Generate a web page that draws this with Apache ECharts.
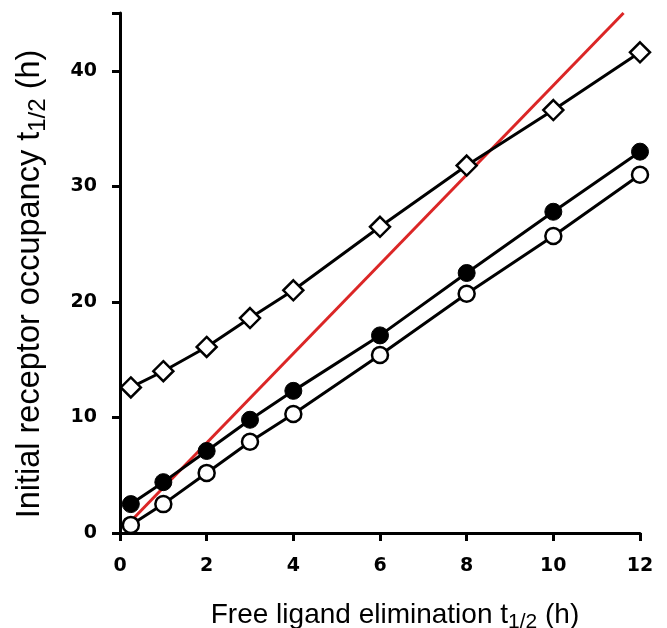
<!DOCTYPE html>
<html><head><meta charset="utf-8">
<script src="https://cdn.jsdelivr.net/npm/echarts@6/dist/echarts.min.js"></script>
<style>html,body{margin:0;padding:0;background:#fff}#c{width:667px;height:628px}</style>
</head><body><div id="c"></div>
<script>
const xValues = [0.25, 1, 2, 3, 4, 6, 8, 10, 12];
const diamondValues = [12.6, 14.0, 16.1, 18.6, 21.0, 26.5, 31.8, 36.6, 41.6];
const filledValues = [2.5, 4.4, 7.1, 9.8, 12.3, 17.1, 22.5, 27.8, 33.0];
const openValues = [0.7, 2.5, 5.2, 7.9, 10.3, 15.4, 20.7, 25.7, 31.0];
const redLineX = [0.32, 11.62];
const redLineY = [1.3, 45];
const xTicks = [0, 2, 4, 6, 8, 10, 12];
const yTicks = [0, 10, 20, 30, 40];

const pair = (xs, ys) => xs.map((x, i) => [x, ys[i]]);
const font = '"Liberation Sans", Arial, Helvetica, sans-serif';
const tickFont = '"DejaVu Sans", "Liberation Sans", Arial, sans-serif';
const chart = echarts.init(document.getElementById('c'), null, {renderer: 'canvas'});
const axisCommon = {
  axisLine: {show: true, onZero: false, lineStyle: {color: '#000', width: 3}},
  axisTick: {show: true, inside: false, length: 8, lineStyle: {color: '#000', width: 3}},
  splitLine: {show: false},
  axisLabel: {color: '#000', fontWeight: 'bold', fontSize: 19, fontFamily: tickFont, margin: 23}
};
chart.setOption({
  animation: false,
  grid: {left: 120, right: 27, top: 13, bottom: 95, containLabel: false, outerBoundsMode: 'none'},
  xAxis: Object.assign({}, axisCommon, {
    type: 'value', min: 0, max: 12, interval: 2,
    name: '{a|Free ligand elimination t}{s|1/2}{a| (h)}',
    nameLocation: 'middle', nameGap: 65,
    nameTextStyle: {padding: [0, 0, 0, 30], rich: {
      a: {fontSize: 28, fontFamily: font, color: '#000'},
      s: {fontSize: 21, fontFamily: font, color: '#000', padding: [14, 0, 0, 0]}
    }},
    axisLabel: Object.assign({}, axisCommon.axisLabel, {margin: 24, formatter: v => xTicks.includes(v) ? String(v) : ''})
  }),
  yAxis: Object.assign({}, axisCommon, {
    type: 'value', min: 0, max: 45, interval: 10,
    name: '{a|Initial receptor occupancy t}{s|1/2}{a| (h)}',
    nameLocation: 'middle', nameGap: 70, nameRotate: 90,
    nameTextStyle: {padding: [0, 22, 0, 0], rich: {
      a: {fontSize: 32.5, fontFamily: font, color: '#000'},
      s: {fontSize: 24, fontFamily: font, color: '#000', padding: [16, 0, 0, 0]}
    }},
    axisLabel: Object.assign({}, axisCommon.axisLabel, {formatter: v => yTicks.includes(v) ? String(v) : ''})
  }),
  series: [
    {type: 'line', data: pair(redLineX, redLineY), symbol: 'none', z: 1,
     lineStyle: {color: '#db2626', width: 3}, clip: false},
    {type: 'line', data: pair(xValues, diamondValues), symbol: 'diamond', symbolSize: 20, z: 2,
     lineStyle: {color: '#000', width: 3},
     itemStyle: {color: '#fff', borderColor: '#000', borderWidth: 2.5}, clip: false},
    {type: 'line', data: pair(xValues, filledValues), symbol: 'circle', symbolSize: 17, z: 2,
     lineStyle: {color: '#000', width: 3},
     itemStyle: {color: '#000', borderColor: '#000', borderWidth: 1}, clip: false},
    {type: 'line', data: pair(xValues, openValues), symbol: 'circle', symbolSize: 16, z: 2,
     lineStyle: {color: '#000', width: 3},
     itemStyle: {color: '#fff', borderColor: '#000', borderWidth: 2.5}, clip: false}
  ]
});
</script></body></html>
